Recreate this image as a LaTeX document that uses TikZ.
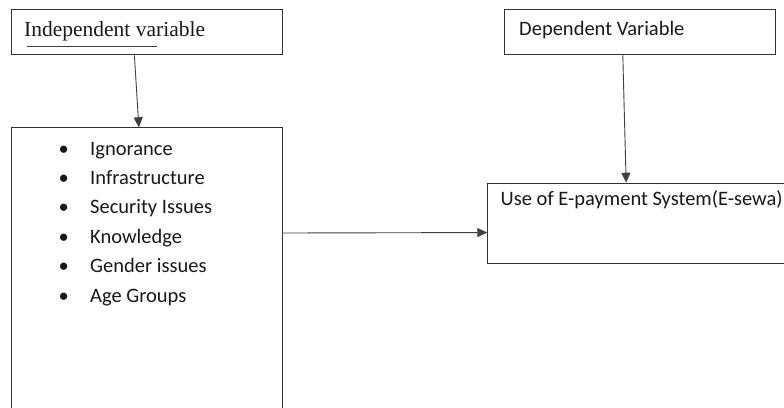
\documentclass[tikz,border=0pt]{standalone}
\usepackage{fontspec}
\setmainfont{Liberation Serif}
\newfontfamily\calfont{Carlito}
\usetikzlibrary{arrows.meta}
\tikzset{
  box/.style={draw=black!80, line width=1.1pt, rectangle, inner sep=0pt, anchor=north west},
  conn/.style={draw=black!75, line width=0.9pt, -{Triangle[length=10pt,width=9pt]}},
  lbl/.style={inner sep=0pt, anchor=base west, text=black!90},
  cal/.style={lbl, font=\calfont\fontsize{20.5}{24}\selectfont},
  item/.style={cal},
}
\newcommand{\blt}{\makebox[31.5pt][l]{•}}
\begin{document}
\begin{tikzpicture}[x=1pt,y=-1pt]
\clip (0,0) rectangle (784,407);
\fill[white] (0,0) rectangle (784,407);
% boxes
\node[box, minimum width=270.7pt, minimum height=45pt] (ind) at (11,9.3) {};
\node[box, minimum width=271.3pt, minimum height=45pt] (dep) at (504,9.3) {};
\node[box, minimum width=271pt, minimum height=303pt] (iv) at (11,127.3) {};
\node[box, minimum width=313pt, minimum height=80.6pt] (use) at (487.3,182.7) {};
% texts
\node[lbl, font=\fontsize{21.5}{24}\selectfont] (indt) at (24,36.7) {Independent variable};
\draw[black!75, line width=1.1pt] (26.7,46.7) -- (157.3,46.7);
\node[cal] (dept) at (519,35) {Dependent Variable};
\node[cal] (uset) at (500.5,205) {Use of E-payment System(E-sewa)};
\node[item] (i1) at (58.5,155) {\blt Ignorance};
\node[item] (i2) at (58.5,184.4) {\blt Infrastructure};
\node[item] (i3) at (58.5,213.8) {\blt Security Issues};
\node[item] (i4) at (58.5,243.2) {\blt Knowledge};
\node[item] (i5) at (58.5,272.6) {\blt Gender issues};
\node[item] (i6) at (58.5,302) {\blt Age Groups};
% connectors
\draw[conn] ([xshift=-12.5pt]ind.south) -- ([xshift=-8.2pt]iv.north);
\draw[conn] ([xshift=-17.4pt]dep.south) -- ([xshift=-18.2pt]use.north);
\draw[conn] (iv.east |- 0,233) -- ([yshift=-9pt]use.west);
\end{tikzpicture}
\end{document}
